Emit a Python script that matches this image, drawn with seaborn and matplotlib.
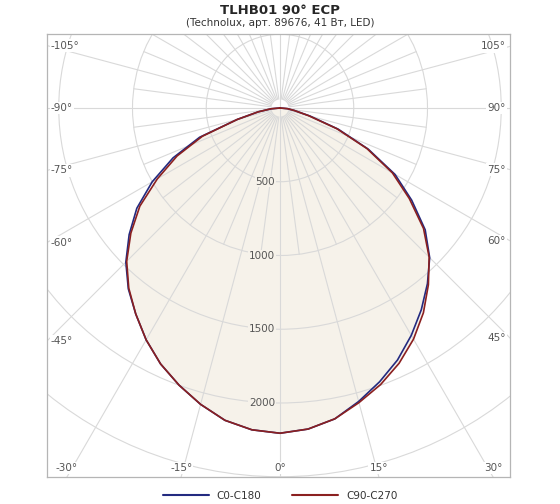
import numpy as np
import pandas as pd
import seaborn as sns
import matplotlib.pyplot as plt
from matplotlib.patches import Circle
from matplotlib.lines import Line2D

sns.set_style("white")
plt.rcParams['font.family'] = ['DejaVu Sans']

# gamma angles (deg, 0 = straight down), left side negative
angles = [-90, -85, -80, -75, -70, -65, -60, -55, -50, -45, -40, -35, -30, -25, -20, -15, -10, -5,
          0, 5, 10, 15, 20, 25, 30, 35, 40, 45, 50, 55, 60, 65, 70, 75, 80, 85, 90]
# luminous intensity, cd
c0_c180 = [0, 60, 150, 300, 580, 800, 1000, 1185, 1335, 1478, 1600, 1705, 1815, 1915, 2000, 2080, 2150, 2190,
           2205, 2185, 2140, 2060, 1975, 1885, 1780, 1670, 1555, 1435, 1285, 1090, 900, 660, 420, 210, 100, 50, 0]
c90_c270 = [0, 60, 150, 300, 560, 770, 960, 1160, 1320, 1470, 1595, 1705, 1815, 1915, 2000, 2080, 2150, 2190,
            2205, 2185, 2140, 2068, 1995, 1910, 1810, 1695, 1565, 1430, 1270, 1070, 880, 650, 410, 200, 100, 50, 0]
series_names = ['C0-C180', 'C90-C270']
series_colors = ['#232a80', '#8b2020']
ring_values = [500, 1000, 1500, 2000, 2500, 3000]
ring_labels = ['500', '1000', '1500', '2000']
angle_labels = list(range(-105, 106, 15))

title = 'TLHB01 90° ECP'
subtitle = '(Technolux, арт. 89676, 41 Вт, LED)'

# long-format table, polar -> cartesian (0 deg pointing down)
rows = []
for name, vals in zip(series_names, [c0_c180, c90_c270]):
    for a, v in zip(angles, vals):
        t = np.radians(a)
        rows.append({'series': name, 'angle': a, 'cd': v,
                     'x': v * np.sin(t), 'y': -v * np.cos(t)})
df = pd.DataFrame(rows)

W, H = 560, 504
fig = plt.figure(figsize=(W / 100, H / 100), dpi=100)
left, right, top, bottom = 47, 510, 34, 477
cx, cy = 280, 108
s = 0.1475  # px per cd
ax = fig.add_axes([left / W, 1 - bottom / H, (right - left) / W, (bottom - top) / H])
ax.set_xlim(-(cx - left) / s, (right - cx) / s)
ax.set_ylim(-(bottom - cy) / s, (cy - top) / s)
ax.set_xticks([])
ax.set_yticks([])
for sp in ax.spines.values():
    sp.set_color('#b5b5b5')
    sp.set_linewidth(0.9)

grid_col = '#d9d9d9'
fill_col = '#f6f2ea'

# fill under the curve
red = df[df['series'] == 'C90-C270']
ax.fill(red['x'], red['y'], color=fill_col, zorder=0.5, lw=0)

# rings
for r in ring_values:
    ax.add_patch(Circle((0, 0), r, fill=False, ec=grid_col, lw=0.8, zorder=1))

# spokes: every 7.5 deg inside 1000 cd, every 15 deg to the frame
for a in np.arange(0, 360, 7.5):
    t = np.radians(a)
    major = a % 15 == 0
    r0 = 0 if a % 90 == 0 else 60
    r1 = 6000 if major else 1000
    ax.plot([r0 * np.sin(t), r1 * np.sin(t)], [-r0 * np.cos(t), -r1 * np.cos(t)],
            color=grid_col, lw=0.8, zorder=1)

# curves
for name, col in zip(series_names, series_colors):
    sns.lineplot(data=df[df['series'] == name], x='x', y='y', sort=False, estimator=None,
                 color=col, lw=1.2, ax=ax, zorder=3, legend=False)
ax.set_xlabel('')
ax.set_ylabel('')

# ring labels along the 0 deg line
for lab in ring_labels:
    ax.text(-5 / s, -float(lab), lab, ha='right', va='center', fontsize=7.5, color='#555555',
            bbox=dict(fc=fill_col, ec='none', pad=0.5), zorder=4)

# angle labels where spokes meet the frame
xmin, xmax = ax.get_xlim()
ymin, ymax = ax.get_ylim()
pad = 4 / s
for a in angle_labels:
    t = np.radians(a)
    dx, dy = np.sin(t), -np.cos(t)
    if dy < 0 and abs(ymin / dy) * abs(dx) <= (xmax if dx > 0 else -xmin):
        k = ymin / dy
        x, y, ha, va = k * dx, ymin + pad, 'center', 'bottom'
    else:
        edge = xmax if dx > 0 else xmin
        k = edge / dx
        x, y = edge - np.sign(dx) * pad, k * dy
        ha, va = ('right' if dx > 0 else 'left'), 'center'
    ax.text(x, y, f'{a}°', ha=ha, va=va, fontsize=7.5, color='#555555',
            bbox=dict(fc='white', ec='none', pad=0.8), zorder=4)

fig.text(0.5, 1 - 10 / H, title, ha='center', va='center', fontsize=9.5, fontweight='bold')
fig.text(0.5, 1 - 23 / H, subtitle, ha='center', va='center', fontsize=7.5, color='#333333')

handles = [Line2D([], [], color=c, lw=1.5) for c in series_colors]
fig.legend(handles, series_names, loc='center', bbox_to_anchor=(0.5, 1 - 496 / H), ncol=2,
           frameon=False, fontsize=7.5, handlelength=4.4, handletextpad=0.8, columnspacing=2.9,
           labelcolor='#333333')

fig.savefig('out.png', dpi=100)
